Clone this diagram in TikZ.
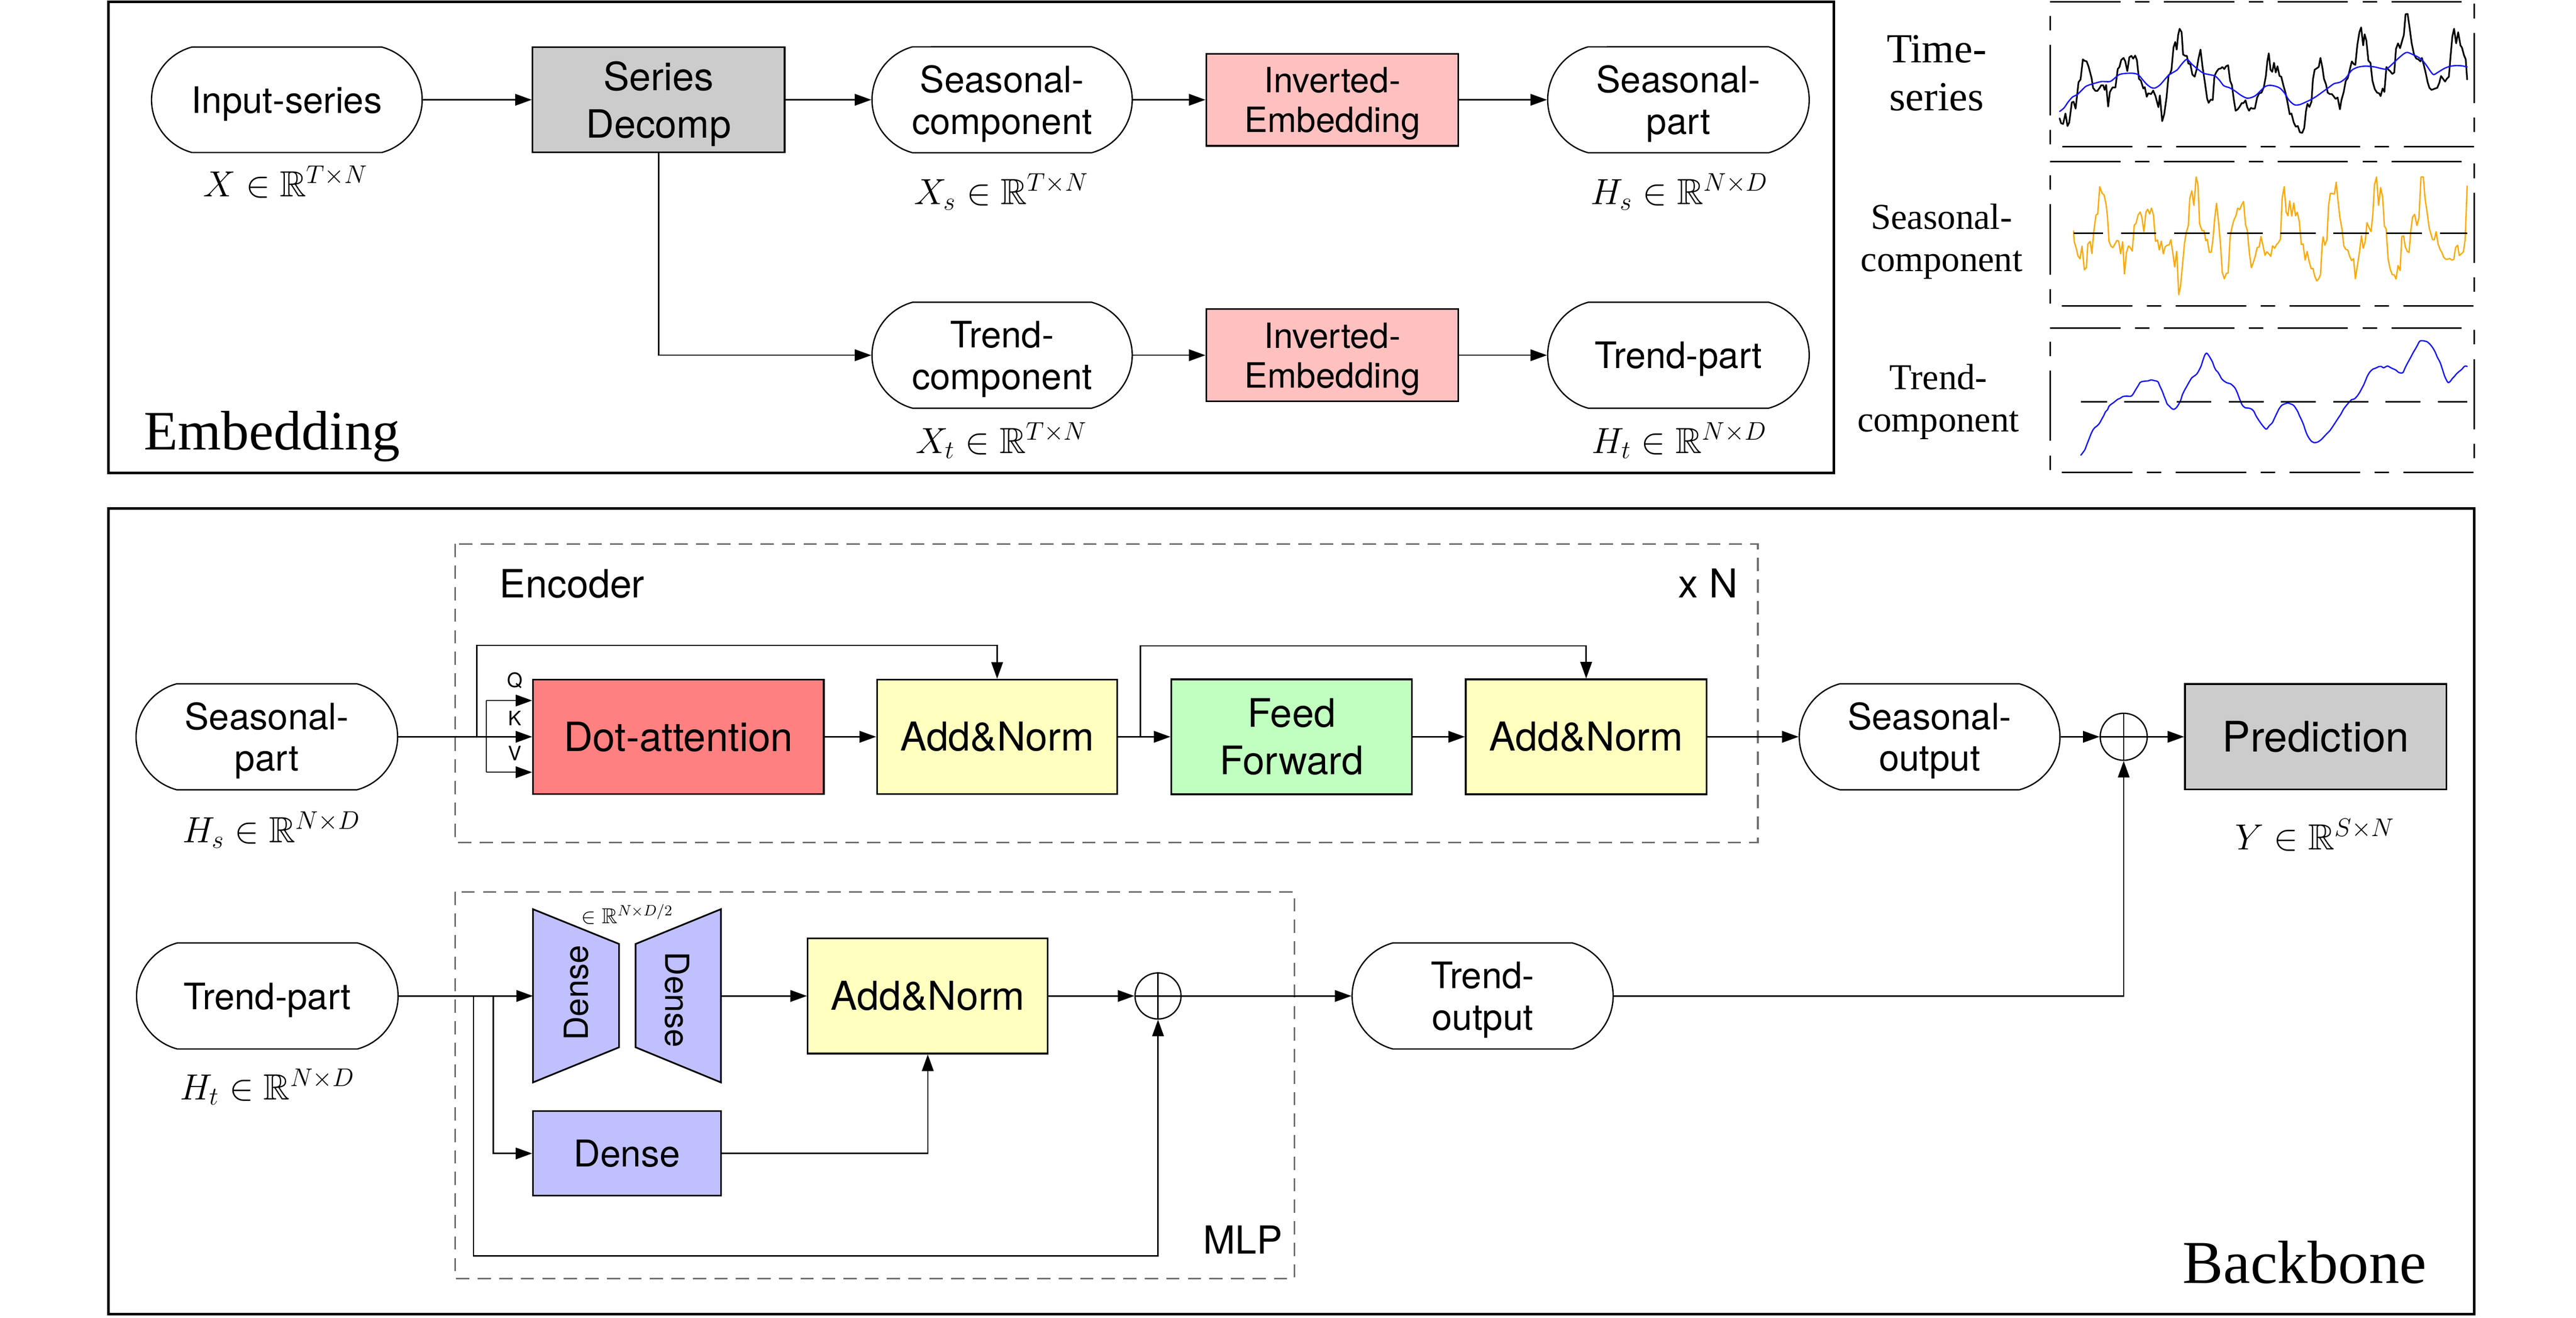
\documentclass[tikz,border=0pt]{standalone}
\usepackage{fix-cm}
\usepackage{amssymb}
\usepackage{fontspec}
\newfontfamily\hv{TeX Gyre Heros}
\newfontfamily\tms{Liberation Serif}
\usetikzlibrary{arrows.meta,shapes.misc}
\newcommand\myfs[2]{\fontsize{#1}{#2}\selectfont}
\newcommand\nod[1]{\raisebox{0pt}[\height][0pt]{#1}}
\definecolor{cgray}{RGB}{204,204,204}
\definecolor{cpink}{RGB}{255,192,192}
\definecolor{cred}{RGB}{255,128,128}
\definecolor{cyel}{RGB}{255,255,192}
\definecolor{cgreen}{RGB}{192,255,192}
\definecolor{cblue}{RGB}{192,192,255}
\definecolor{dgray}{RGB}{110,110,110}
\definecolor{plotblue}{RGB}{20,20,255}
\definecolor{plotorange}{RGB}{255,168,0}
\begin{document}
\begin{tikzpicture}[x=1pt,y=-1pt,
  rnd/.style={draw, line width=0.8pt, rounded rectangle, rounded rectangle arc length=150,
    inner sep=0pt, minimum width=158pt, minimum height=64pt, align=center, font=\hv\myfs{22}{25}},
  rbox/.style={draw, line width=1pt, rectangle, inner sep=0pt, align=center, font=\hv\myfs{24}{28.7}},
  arr/.style={line width=0.8pt, -{Triangle[length=10pt,width=7pt]}},
  ln/.style={line width=0.8pt},
  lbl/.style={font=\myfs{22}{26}, inner sep=0pt},
  grp/.style={draw=dgray, line width=1pt, dash pattern=on 8pt off 5pt},
  panel/.style={line width=1pt, dash pattern=on 42.5pt off 8.75pt on 8.75pt off 8.75pt},
  opl/.style={draw, circle, line width=0.8pt, minimum size=28.4pt, inner sep=0pt},
  bigbox/.style={line width=1.6pt},
  curve/.style={line join=round, line cap=round}
]
\useasboundingbox (0,0) rectangle (1556.25,795.75);

% ---------------- Embedding ----------------
\draw[bigbox] (65.4,1) rectangle (1108,285.6);
\node[font=\tms\myfs{33.6}{38}, anchor=base west, inner sep=0pt] (emb) at (86.7,271.6) {Embedding};

\node[rnd, minimum width=163.5pt, minimum height=63.7pt] (inp) at (173.3,60.25) {\nod{Input-series}};
\node[rbox, fill=cgray, minimum width=152.3pt, minimum height=63.5pt, font=\hv\myfs{23.5}{28.7}] (dec) at (397.9,60.25) {Series\\\nod{Decomp}};
\node[rnd, minimum width=157.2pt] (scomp) at (605.4,60.25) {Seasonal-\\\nod{component}};
\node[rbox, fill=cpink, minimum width=152.3pt, minimum height=55.7pt, font=\hv\myfs{21}{24}] (sinv) at (804.9,60.25) {Inverted-\\\nod{Embedding}};
\node[rnd] (spart) at (1014,60.25) {Seasonal-\\\nod{part}};
\node[rnd, minimum width=157.2pt] (tcomp) at (605.4,214.5) {Trend-\\\nod{component}};
\node[rbox, fill=cpink, minimum width=152.3pt, minimum height=55.7pt, font=\hv\myfs{21}{24}] (tinv) at (804.9,214.5) {Inverted-\\\nod{Embedding}};
\node[rnd] (tpart) at (1014,214.5) {\nod{Trend-part}};

\draw[arr] (inp.east) -- (dec.west);
\draw[arr] (dec.east) -- (scomp.west);
\draw[arr] (scomp.east) -- (sinv.west);
\draw[arr] (sinv.east) -- (spart.west);
\draw[arr] (dec.south) |- (tcomp.west);
\draw[arr] (tcomp.east) -- (tinv.west);
\draw[arr] (tinv.east) -- (tpart.west);

\node[lbl, anchor=base] (lx) at (172.5,118.6) {$X\in\mathbb{R}^{T\times N}$};
\node[lbl, anchor=base] (lxs) at (605,123.4) {$X_s\in\mathbb{R}^{T\times N}$};
\node[lbl, anchor=base] (lhs) at (1014.5,123.4) {$H_s\in\mathbb{R}^{N\times D}$};
\node[lbl, anchor=base] (lxt) at (605,273.6) {$X_t\in\mathbb{R}^{T\times N}$};
\node[lbl, anchor=base] (lht) at (1014.5,273.6) {$H_t\in\mathbb{R}^{N\times D}$};

% ---------------- right panel ----------------
\node[font=\tms\myfs{25}{29}, align=center, inner sep=0pt] (lts) at (1170,44.25) {Time-\\series};
\node[font=\tms\myfs{22}{25.6}, align=center, inner sep=0pt] (lsc) at (1173,145.7) {Seasonal-\\component};
\node[font=\tms\myfs{22}{25.6}, align=center, inner sep=0pt] (ltc) at (1171,242.65) {Trend-\\component};

\draw[panel] (1238.5,1) -- (1494.7,1) -- (1494.7,88.5) -- (1238.5,88.5) -- cycle;
\draw[panel] (1238.5,97.5) -- (1494.7,97.5) -- (1494.7,184.8) -- (1238.5,184.8) -- cycle;
\draw[panel] (1238.5,198) -- (1494.7,198) -- (1494.7,285.3) -- (1238.5,285.3) -- cycle;

\begin{scope}[shift={(1237.272,0.1611)}, x=0.175479pt, y=-0.083893pt]
\draw[curve, line width=1pt, black] plot[sharp plot] coordinates {
(40,850) (45,885) (52,890) (60,815) (67,905) (73,880) (82,735) (88,730) (95,780) (105,590) (112,570) (120,425) (125,435) (133,440) (140,480) (150,560) (155,630) (163,652) (170,652) (178,630) (183,612) (190,612) (195,645) (200,610) (207,765) (213,660) (222,628) (232,628) (240,495) (246,480) (252,430) (260,415) (266,440) (273,510) (280,410) (287,400) (293,420) (300,398) (306,430) (313,565) (320,580) (328,635) (333,625) (340,695) (345,670) (355,675) (362,650) (370,690) (380,770) (385,685) (393,870) (400,820) (408,700) (415,540) (420,530) (425,500) (432,340) (438,300) (443,355) (448,250) (453,205) (460,230) (465,390) (472,400) (478,400) (483,455) (490,460) (497,535) (505,550) (512,495) (518,420) (525,355) (532,480) (540,590) (548,710) (553,738) (560,715) (567,718) (573,545) (580,515) (587,495) (595,490) (600,480) (607,495) (613,475) (620,468) (627,580) (633,610) (640,720) (646,795) (653,785) (660,765) (667,740) (673,740) (680,720) (686,770) (692,795) (698,775) (705,780) (712,780) (720,700) (727,670) (735,665) (743,625) (750,545) (755,440) (760,382) (766,500) (772,515) (778,450) (784,520) (790,475) (797,545) (803,550) (810,610) (818,670) (825,740) (832,820) (838,815) (846,880) (853,910) (860,905) (867,950) (875,955) (882,920) (888,800) (893,745) (900,768) (907,730) (912,570) (918,500) (925,490) (932,480) (938,415) (945,490) (950,565) (957,605) (963,665) (970,675) (977,675) (983,690) (990,710) (997,700) (1005,785) (1010,720) (1018,660) (1025,580) (1032,560) (1040,490) (1046,440) (1053,460) (1058,465) (1065,320) (1072,230) (1078,195) (1085,325) (1090,245) (1096,290) (1103,435) (1110,450) (1117,580) (1125,640) (1133,665) (1140,670) (1145,690) (1152,635) (1158,660) (1165,480) (1172,500) (1178,510) (1185,530) (1192,520) (1198,350) (1205,310) (1212,345) (1218,300) (1225,250) (1231,100) (1238,98) (1245,200) (1252,310) (1260,390) (1268,420) (1275,425) (1282,440) (1287,415) (1293,460) (1300,520) (1307,590) (1313,630) (1320,645) (1327,640) (1333,635) (1340,630) (1347,595) (1353,545) (1360,565) (1367,585) (1373,565) (1380,550) (1386,400) (1392,260) (1398,205) (1405,310) (1412,230) (1420,325) (1425,340) (1432,395) (1438,425) (1443,570)};
\draw[curve, line width=0.8pt, plotblue] plot[smooth] coordinates {
(40,800) (55,775) (70,730) (85,695) (100,680) (115,650) (130,620) (148,605) (165,595) (185,585) (213,585) (230,560) (245,535) (265,527) (290,525) (310,535) (325,570) (340,605) (355,628) (368,632) (385,610) (400,575) (415,540) (430,520) (445,500) (460,460) (478,425) (495,460) (515,495) (535,525) (555,535) (575,545) (590,575) (605,615) (625,630) (645,655) (665,685) (685,705) (700,700) (715,685) (730,655) (748,620) (765,612) (785,620) (800,635) (815,670) (830,720) (848,752) (865,752) (885,735) (905,715) (925,690) (945,660) (965,630) (985,600) (1005,590) (1025,560) (1045,505) (1065,483) (1085,475) (1105,475) (1125,480) (1145,490) (1165,495) (1185,460) (1205,420) (1225,385) (1237,375) (1255,390) (1275,410) (1290,435) (1305,475) (1318,515) (1328,535) (1345,515) (1365,490) (1385,475) (1405,470) (1425,472) (1443,480)};
\end{scope}

\begin{scope}[shift={(1237.272,94.7405)}, x=0.175479pt, y=-0.083621pt]
\draw[curve, line width=0.8pt, plotorange] plot[sharp plot] coordinates {
(88,535) (90,610) (97,660) (103,715) (110,735) (117,645) (125,815) (132,800) (137,630) (145,610) (151,698) (157,550) (165,420) (171,412) (178,215) (186,262) (193,275) (200,345) (205,440) (210,610) (217,645) (223,655) (230,630) (237,603) (243,608) (250,700) (257,612) (263,845) (270,690) (277,643) (283,655) (290,680) (297,492) (303,480) (310,420) (317,398) (323,435) (330,540) (337,400) (343,378) (350,412) (356,370) (363,420) (370,610) (377,600) (383,672) (390,608) (397,700) (403,650) (410,638) (417,635) (423,598) (430,700) (436,795) (443,682) (450,995) (456,935) (463,780) (470,620) (476,545) (483,495) (488,300) (495,245) (502,350) (510,145) (516,200) (522,485) (530,532) (537,532) (543,605) (548,595) (555,688) (562,688) (568,590) (574,440) (580,335) (587,470) (594,640) (600,835) (607,880) (614,840) (620,840) (627,575) (633,510) (640,455) (647,425) (653,370) (660,380) (667,345) (673,322) (680,490) (686,530) (693,690) (700,800) (707,760) (713,720) (720,655) (727,650) (733,575) (740,640) (747,710) (753,685) (760,700) (767,718) (773,642) (780,660) (787,632) (793,620) (800,595) (806,300) (813,215) (820,400) (826,425) (832,318) (839,428) (846,333) (852,425) (858,400) (865,465) (872,633) (878,628) (885,745) (892,683) (899,755) (906,808) (912,805) (918,860) (925,895) (932,880) (938,850) (944,630) (947,577) (953,638) (960,600) (966,350) (972,263) (980,265) (986,268) (992,183) (998,310) (1005,440) (1012,520) (1018,640) (1025,668) (1032,672) (1038,715) (1045,748) (1052,735) (1058,880) (1065,785) (1072,690) (1079,570) (1085,660) (1092,610) (1098,475) (1105,510) (1112,540) (1118,420) (1124,200) (1131,145) (1138,350) (1145,222) (1152,290) (1158,500) (1164,520) (1171,740) (1178,810) (1185,850) (1192,852) (1198,882) (1205,785) (1212,820) (1218,575) (1224,570) (1230,650) (1237,683) (1243,690) (1249,530) (1255,435) (1262,415) (1270,495) (1277,440) (1284,145) (1292,145) (1298,300) (1305,400) (1312,510) (1318,555) (1324,598) (1330,598) (1336,540) (1343,630) (1350,670) (1356,690) (1362,725) (1370,740) (1377,738) (1383,733) (1390,745) (1397,740) (1403,655) (1410,638) (1416,712) (1423,700) (1430,685) (1436,600) (1443,210)};
\coordinate (m2a) at (88,552);
\coordinate (m2b) at (1443,552);
\draw[line width=1pt, dash pattern=on 21.4pt off 10.7pt, dash phase=3.5pt] (m2a) -- (m2b);
\end{scope}

\begin{scope}[shift={(1237.272,194.652)}, x=0.175479pt, y=-0.083701pt]
\draw[curve, line width=0.8pt, plotblue] plot[smooth] coordinates {
(113,958) (118,945) (127,918) (133,885) (140,848) (148,805) (155,775) (162,758) (170,745) (178,725) (185,698) (192,672) (198,645) (205,630) (210,605) (218,590) (225,580) (232,568) (240,555) (248,548) (258,535) (270,532) (285,533) (292,520) (300,492) (310,458) (318,432) (330,425) (345,422) (355,415) (365,420) (378,428) (385,460) (393,495) (400,535) (405,560) (410,588) (418,605) (425,620) (433,628) (442,615) (450,590) (457,560) (463,520) (470,490) (478,460) (486,430) (495,400) (505,385) (513,370) (520,345) (527,315) (533,275) (540,235) (546,222) (552,235) (558,255) (566,285) (572,320) (578,345) (585,360) (592,385) (598,408) (607,425) (617,437) (628,443) (638,460) (645,478) (652,510) (660,555) (667,590) (672,605) (680,617) (690,618) (700,625) (708,640) (715,670) (722,695) (730,720) (740,748) (750,770) (755,765) (762,745) (772,725) (780,690) (788,655) (795,625) (805,598) (815,588) (825,582) (835,588) (845,598) (853,620) (860,645) (866,675) (872,700) (880,740) (887,785) (893,815) (900,840) (908,860) (915,867) (925,866) (933,858) (942,843) (950,825) (960,803) (970,782) (980,752) (990,720) (1000,688) (1008,663) (1017,628) (1025,605) (1035,580) (1045,558) (1055,552) (1065,530) (1073,505) (1080,478) (1087,450) (1093,420) (1100,385) (1108,358) (1118,338) (1128,330) (1138,320) (1147,318) (1155,328) (1163,320) (1170,315) (1178,325) (1188,335) (1198,345) (1205,358) (1213,365) (1222,362) (1230,325) (1238,293) (1248,255) (1258,215) (1268,180) (1278,140) (1282,133) (1292,133) (1305,140) (1315,158) (1325,185) (1333,215) (1340,250) (1350,290) (1358,340) (1365,385) (1372,418) (1378,435) (1385,425) (1392,405) (1400,388) (1406,372) (1415,355) (1425,338) (1432,320) (1438,315) (1443,318)};
\coordinate (m3a) at (113,572);
\coordinate (m3b) at (1443,572);
\draw[line width=1pt, dash pattern=on 21.06pt off 10.5pt, dash phase=5.3pt] (m3a) -- (m3b);
\end{scope}

% ---------------- Backbone ----------------
\draw[bigbox] (65.5,307) rectangle (1494.7,793.4);
\node[font=\tms\myfs{36.8}{40}, anchor=base west, inner sep=0pt] (bb) at (1318.5,775) {Backbone};

% Encoder group
\draw[grp] (275,328.5) rectangle (1062,508.7);
\node[font=\hv\myfs{23.5}{28}, anchor=base west, inner sep=0pt] (enc) at (301.7,361) {Encoder};
\node[font=\hv\myfs{24}{28}, anchor=base east, inner sep=0pt] (xn) at (1050,361) {x N};

\node[rnd] (bsp) at (161.2,444.9) {Seasonal-\\\nod{part}};
\node[rbox, fill=cred, minimum width=175.7pt, minimum height=69.1pt, font=\hv\myfs{24.3}{28}] (attn) at (409.85,444.9) {Dot-attention};
\node[rbox, fill=cyel, minimum width=145.2pt, minimum height=69.1pt] (an1) at (602.4,444.9) {Add\&Norm};
\node[rbox, fill=cgreen, minimum width=145.3pt, minimum height=69.4pt, font=\hv\myfs{23.7}{28.7}] (ff) at (780.25,444.9) {Feed\\Forward};
\node[rbox, fill=cyel, minimum width=145.5pt, minimum height=69.4pt] (an2) at (958.25,444.9) {Add\&Norm};
\node[rnd, minimum width=157.5pt] (sout) at (1165.75,444.9) {Seasonal-\\\nod{output}};
\node[opl] (op1) at (1283,444.9) {};
\draw[ln] (op1.north) -- (op1.south) (op1.west) -- (op1.east);
\node[rbox, fill=cgray, minimum width=158pt, minimum height=63.7pt, font=\hv\myfs{25.4}{28}] (pred) at (1399,444.9) {Prediction};

\node[lbl, anchor=base] (lhs2) at (164,508.7) {$H_s\in\mathbb{R}^{N\times D}$};
\node[lbl, anchor=base] (ly) at (1398.5,513) {$Y\in\mathbb{R}^{S\times N}$};

\coordinate (ra) at (288,444.9);
\coordinate (rtop) at (288,389.7);
\coordinate (qv1) at (293.8,423);
\coordinate (qv2) at (293.8,466.3);
\draw[arr] (bsp.east) -- (attn.west);
\draw[ln] (qv1) -- (qv2);
\draw[arr] (qv1) -- (qv1 -| attn.west);
\draw[arr] (qv2) -- (qv2 -| attn.west);
\draw[arr] (ra) -- (rtop) -| (an1.north);
\node[font=\hv\myfs{12}{14}, inner sep=0pt] (lq) at (311,411) {Q};
\node[font=\hv\myfs{12}{14}, inner sep=0pt] (lk) at (311,433.8) {K};
\node[font=\hv\myfs{12}{14}, inner sep=0pt] (lv) at (311,455) {V};

\coordinate (rb) at (689,444.9);
\coordinate (rbtop) at (689,390);
\draw[arr] (attn.east) -- (an1.west);
\draw[arr] (an1.east) -- (ff.west);
\draw[arr] (rb) -- (rbtop) -| (an2.north);
\draw[arr] (ff.east) -- (an2.west);
\draw[arr] (an2.east) -- (sout.west);
\draw[arr] (sout.east) -- (op1.west);
\draw[arr] (op1.east) -- (pred.west);

% MLP group
\draw[grp] (275,538.6) rectangle (782,772);
\node[font=\hv\myfs{23.3}{28}, anchor=base east, inner sep=0pt] (mlp) at (775,757) {MLP};

\node[rnd] (tp2) at (161.5,601.4) {\nod{Trend-part}};
\node[lbl, anchor=base] (lht2) at (161.5,664) {$H_t\in\mathbb{R}^{N\times D}$};

\draw[fill=cblue, line width=1pt, line join=miter] (322,549) -- (374,570) -- (374,632.4) -- (322,653.6) -- cycle;
\draw[fill=cblue, line width=1pt, line join=miter] (384,570) -- (435.5,549) -- (435.5,653.6) -- (384,632.4) -- cycle;
\coordinate (d1w) at (322,601.4);
\coordinate (d2e) at (435.5,601.4);
\node[rotate=90, font=\hv\myfs{20}{24}, inner sep=0pt] (d1t) at (348,599.5) {Dense};
\node[rotate=-90, font=\hv\myfs{20}{24}, inner sep=0pt] (d2t) at (409,603.7) {Dense};
\node[font=\myfs{13}{15}, anchor=base, inner sep=0pt] (dlab) at (379,557.5) {$\in\mathbb{R}^{N\times D/2}$};

\node[rbox, fill=cyel, minimum width=145pt, minimum height=69.6pt] (an3) at (560.5,601.4) {Add\&Norm};
\node[opl, minimum size=27.8pt] (op2) at (699.6,601.4) {};
\draw[ln] (op2.north) -- (op2.south) (op2.west) -- (op2.east);
\node[rbox, fill=cblue, minimum width=113.5pt, minimum height=51pt, font=\hv\myfs{22.3}{26}] (dns) at (378.75,696.5) {Dense};
\node[rnd, minimum width=157.7pt] (tout) at (895.7,601.4) {Trend-\\\nod{output}};

\coordinate (b1) at (286,601.4);
\coordinate (b1d) at (286,758.4);
\coordinate (b2) at (298,601.4);
\draw[arr] (tp2.east) -- (d1w);
\draw[arr] (b2) |- (dns.west);
\draw[arr] (b1) -- (b1d) -| (op2.south);
\draw[arr] (d2e) -- (an3.west);
\draw[arr] (dns.east) -| (an3.south);
\draw[arr] (an3.east) -- (op2.west);
\draw[arr] (op2.east) -- (tout.west);
\draw[arr] (tout.east) -| (op1.south);
\end{tikzpicture}
\end{document}
